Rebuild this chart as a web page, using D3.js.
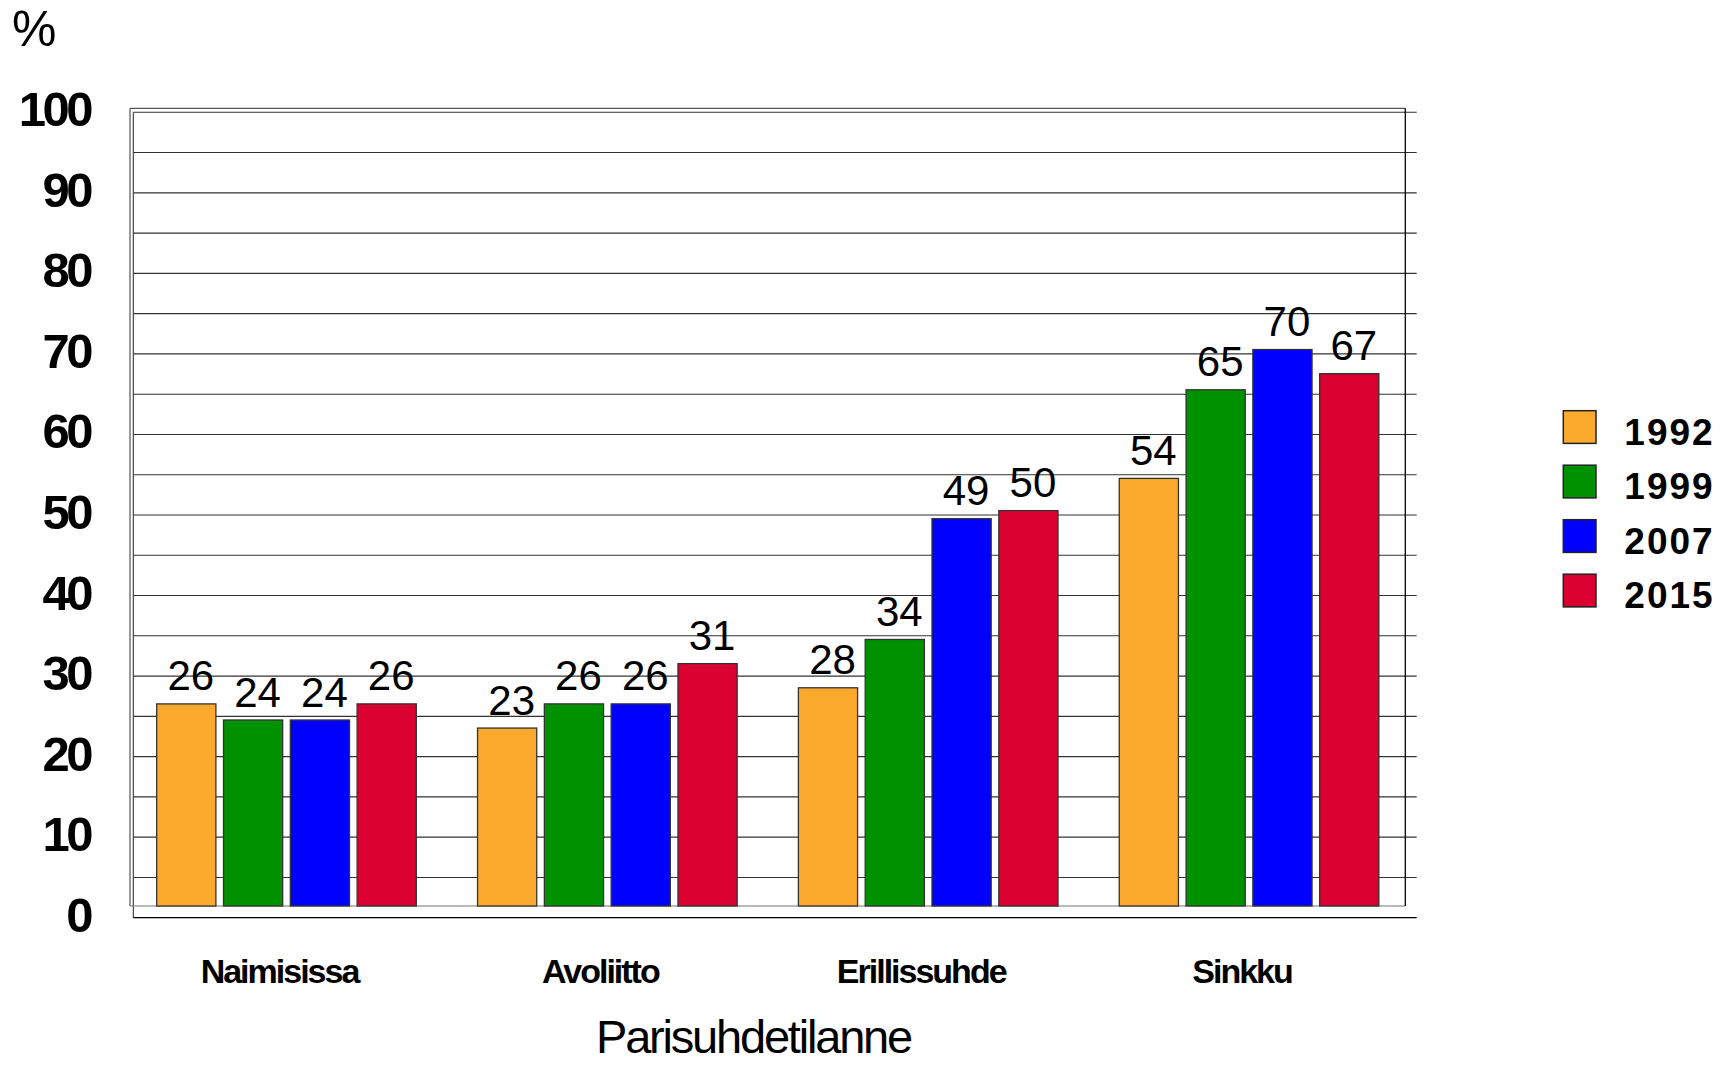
<!DOCTYPE html>
<html>
<head>
<meta charset="utf-8">
<script src="https://cdn.jsdelivr.net/npm/d3@7"></script>
<style>
  html, body { margin: 0; padding: 0; background: #fff; }
  svg { display: block; font-family: "Liberation Sans", Arial, Helvetica, sans-serif; }
</style>
</head>
<body>
<svg id="chart" width="1734" height="1065"></svg>
<script>
// Parisuhdetilanne (%) by survey year
const categories = ["Naimisissa", "Avoliitto", "Erillissuhde", "Sinkku"];
const years = ["1992", "1999", "2007", "2015"];
const values1992 = [26, 23, 28, 54];
const values1999 = [24, 26, 34, 65];
const values2007 = [24, 26, 49, 70];
const values2015 = [26, 31, 50, 67];
const yTickLabels = [0, 10, 20, 30, 40, 50, 60, 70, 80, 90, 100];
const colors = ["#FBAA2D", "#009100", "#0000FF", "#DA0030"];

const seriesValues = [values1992, values1999, values2007, values2015];
const series = years.map((yr, k) => ({ year: yr, color: colors[k], values: seriesValues[k] }));

const svg = d3.select("#chart");

// scales: back wall (grid) plane
const y = d3.scaleLinear().domain([0, 100]).range([917.7, 112.3]);
const x0 = d3.scaleBand().domain(categories).range([133.3, 1416.7]).padding(0);
const x1 = d3.scaleBand().domain(years).range([23.4, 283]).paddingInner(0.114).paddingOuter(0);

// front plane offset of the pseudo-3D bars
const barLift = 4.4;
const floorY = 906;

// grid lines every 5 units
const grid = svg.append("g");
grid.selectAll("line")
  .data(y.ticks(20).filter(d => d > 0))
  .join("line")
  .attr("x1", 133.3).attr("x2", 1416.7)
  .attr("y1", d => y(d)).attr("y2", d => y(d))
  .attr("stroke", "#333").attr("stroke-width", 1.1);

// axis lines of the back plane
svg.append("line").attr("x1", 133.3).attr("x2", 133.3)
  .attr("y1", y(100)).attr("y2", y(0)).attr("stroke", "#333").attr("stroke-width", 1.1);
svg.append("line").attr("x1", 133.3).attr("x2", 1416.7)
  .attr("y1", y(0)).attr("y2", y(0)).attr("stroke", "#000").attr("stroke-width", 1.3);

// front frame
const fx0 = 130, fx1 = 1405.3, fy0 = 108.3, fy1 = floorY;
const frame = svg.append("g").attr("fill", "none");
frame.append("line").attr("x1", fx0).attr("x2", fx1).attr("y1", fy0).attr("y2", fy0).attr("stroke", "#555").attr("stroke-width", 1.2);
frame.append("line").attr("x1", fx0).attr("x2", fx0).attr("y1", fy0).attr("y2", fy1).attr("stroke", "#555").attr("stroke-width", 1.2);
frame.append("line").attr("x1", fx0).attr("x2", fx1).attr("y1", fy1).attr("y2", fy1).attr("stroke", "#777").attr("stroke-width", 1.2);
frame.append("line").attr("x1", fx1).attr("x2", fx1).attr("y1", fy0).attr("y2", fy1).attr("stroke", "#000").attr("stroke-width", 1.3);

// bars
const barsG = svg.append("g");
series.forEach(s => {
  const g = barsG.append("g");
  g.selectAll("rect")
    .data(categories.map((c, i) => ({ cat: c, v: s.values[i] })))
    .join("rect")
    .attr("x", d => x0(d.cat) + x1(s.year))
    .attr("y", d => y(d.v) - barLift)
    .attr("width", x1.bandwidth())
    .attr("height", d => floorY - (y(d.v) - barLift))
    .attr("fill", s.color)
    .attr("stroke", "#333")
    .attr("stroke-width", 1.3);

  g.selectAll("text")
    .data(categories.map((c, i) => ({ cat: c, v: s.values[i] })))
    .join("text")
    .attr("x", d => x0(d.cat) + x1(s.year) + x1.bandwidth() / 2 + 4.5)
    .attr("y", d => y(d.v) - barLift - 13.5)
    .attr("text-anchor", "middle")
    .attr("font-size", 42)
    .attr("fill", "#000")
    .text(d => d.v);
});

// y tick labels
svg.append("g").selectAll("text")
  .data(yTickLabels)
  .join("text")
  .attr("x", 90)
  .attr("y", d => y(d) + 14)
  .attr("text-anchor", "end")
  .attr("font-size", 49)
  .attr("font-weight", "bold")
  .attr("letter-spacing", -3.5)
  .text(d => d);

// unit label
svg.append("text").attr("x", 12).attr("y", 46)
  .attr("font-size", 50).text("%");

// category labels
svg.append("g").selectAll("text")
  .data(categories)
  .join("text")
  .attr("x", d => x0(d) + x1.range()[0] + (x1.range()[1] - x1.range()[0]) / 2 - 7)
  .attr("y", 982.7)
  .attr("text-anchor", "middle")
  .attr("font-size", 34)
  .attr("font-weight", "bold")
  .attr("letter-spacing", -2)
  .text(d => d);

// axis title
svg.append("text")
  .attr("x", 753.5).attr("y", 1053)
  .attr("text-anchor", "middle")
  .attr("font-size", 47)
  .attr("letter-spacing", -2.2)
  .text("Parisuhdetilanne");

// legend
const legend = svg.append("g");
const lg = legend.selectAll("g")
  .data(series)
  .join("g")
  .attr("transform", (d, i) => `translate(1563.3, ${410.7 + i * 54.5})`);
lg.append("rect")
  .attr("width", 32.7).attr("height", 32.7)
  .attr("fill", d => d.color)
  .attr("stroke", "#222").attr("stroke-width", 1.5);
lg.append("text")
  .attr("x", 61).attr("y", 34.3)
  .attr("font-size", 37)
  .attr("font-weight", "bold")
  .attr("letter-spacing", 2)
  .text(d => d.year);
</script>
</body>
</html>
